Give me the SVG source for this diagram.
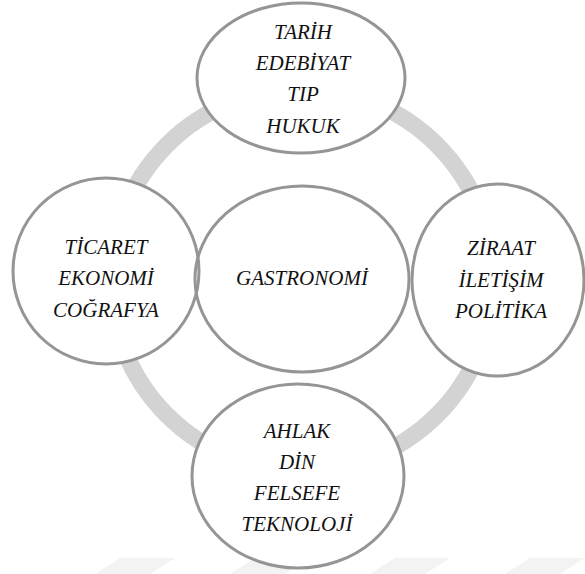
<svg xmlns="http://www.w3.org/2000/svg" width="585" height="574" viewBox="0 0 585 574">
<style>
.bg{fill:#ffffff;stroke:none}
.node{fill:none;stroke:#959595;stroke-width:3}
.wm{fill:#f3f3f3}
</style>
<rect width="585" height="574" fill="#ffffff"/>
<g id="watermark">
<polygon class="wm" points="120,558 175,558 150,574 95,574"/>
<polygon class="wm" points="255,558 310,558 285,574 230,574"/>
<polygon class="wm" points="395,558 450,558 425,574 370,574"/>
<polygon class="wm" points="530,558 585,558 560,574 505,574"/>
</g>
<g id="connectors">
<circle cx="302" cy="280" r="191" fill="none" stroke="#d3d3d3" stroke-width="17"/>
</g>
<g id="fills">
<ellipse class="bg" cx="301" cy="78" rx="104" ry="75"/>
<ellipse class="bg" cx="106" cy="271" rx="93" ry="93"/>
<ellipse class="bg" cx="498" cy="280" rx="86" ry="96"/>
<ellipse class="bg" cx="298" cy="476" rx="106" ry="92"/>
<ellipse class="bg" cx="302" cy="279" rx="107" ry="93"/>
</g>
<g font-family="Liberation Serif, serif" font-style="italic" font-size="21" fill="#111" text-anchor="middle">
<g id="node-top">
<ellipse class="node" cx="301" cy="78" rx="104" ry="75"/>
<text x="303" y="39">TARİH</text>
<text x="303" y="70">EDEBİYAT</text>
<text x="303" y="101">TIP</text>
<text x="303" y="133">HUKUK</text>
</g>
<g id="node-left">
<ellipse class="node" cx="106" cy="271" rx="93" ry="93"/>
<text x="106" y="254">TİCARET</text>
<text x="106" y="285">EKONOMİ</text>
<text x="106" y="317">COĞRAFYA</text>
</g>
<g id="node-right">
<ellipse class="node" cx="498" cy="280" rx="86" ry="96"/>
<text x="501" y="255">ZİRAAT</text>
<text x="501" y="287">İLETİŞİM</text>
<text x="501" y="318">POLİTİKA</text>
</g>
<g id="node-center">
<ellipse class="node" cx="302" cy="279" rx="107" ry="93"/>
<text x="302" y="285">GASTRONOMİ</text>
</g>
<g id="node-bottom">
<ellipse class="node" cx="298" cy="476" rx="106" ry="92"/>
<text x="297" y="438">AHLAK</text>
<text x="297" y="469">DİN</text>
<text x="297" y="500">FELSEFE</text>
<text x="297" y="531">TEKNOLOJİ</text>
</g>
</g>
</svg>
